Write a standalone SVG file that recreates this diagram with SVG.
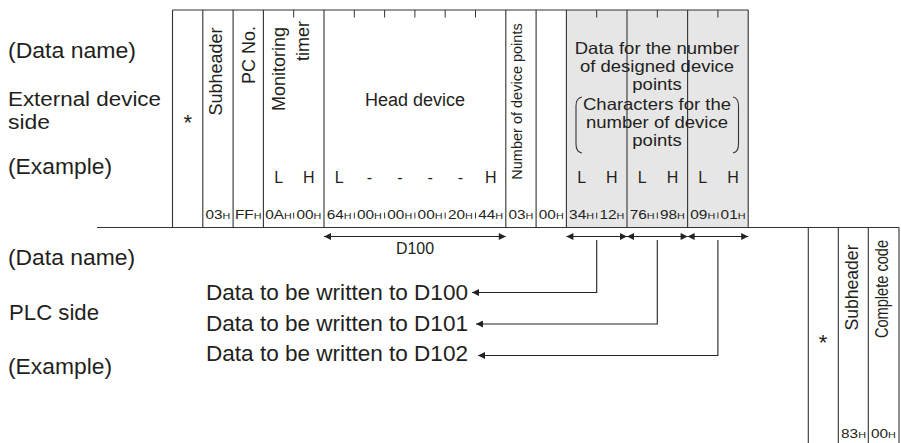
<svg xmlns="http://www.w3.org/2000/svg" width="901" height="443" viewBox="0 0 901 443">
<defs>
<marker id="ah" viewBox="0 0 10 10" refX="10" refY="5" markerWidth="8.5" markerHeight="7" markerUnits="userSpaceOnUse" orient="auto-start-reverse"><path d="M0,0 L10,5 L0,10 Z" fill="#222"/></marker>
<style>
text{font-family:"Liberation Sans",Arial,sans-serif;fill:#231f20}
.lbl{font-size:22px}
.lbs{font-size:20px}
.m{font-size:18px;text-anchor:middle}
.g{font-size:16.5px;text-anchor:middle}
.lh{font-size:16px;text-anchor:middle}
.rot{font-size:18px;text-anchor:middle}
.b{font-size:12.8px;text-anchor:middle}
.h{font-size:9px}
.ln{stroke:#333;stroke-width:1.1;fill:none}
.tk{stroke:#333;stroke-width:1;fill:none}
.cn{stroke:#222;stroke-width:1.1;fill:none}
</style>
</defs>
<rect width="901" height="443" fill="#fff"/>

<g id="labels-external">
<text class="lbl" x="8" y="58" textLength="128" lengthAdjust="spacingAndGlyphs">(Data name)</text>
<text class="lbs" x="8" y="106" textLength="153" lengthAdjust="spacingAndGlyphs">External device</text>
<text class="lbs" x="8" y="129" textLength="42" lengthAdjust="spacingAndGlyphs">side</text>
<text class="lbl" x="8" y="174" textLength="104" lengthAdjust="spacingAndGlyphs">(Example)</text>
</g>

<g id="labels-plc">
<text class="lbl" x="8" y="265" textLength="127" lengthAdjust="spacingAndGlyphs">(Data name)</text>
<text class="lbl" x="9" y="320" textLength="90" lengthAdjust="spacingAndGlyphs">PLC side</text>
<text class="lbl" x="8" y="374" textLength="104" lengthAdjust="spacingAndGlyphs">(Example)</text>
</g>

<g id="frame-external">
<rect x="566.4" y="10" width="181.8" height="217.5" fill="#e6e6e6"/>
<path class="ln" d="M172.5,10 H748.2 M97,227.5 H899"/>
<path class="ln" d="M172.5,10 V227.5 M202.8,10 V227.5 M233.1,10 V227.5 M263.4,10 V227.5 M324,10 V227.5 M505.8,10 V227.5 M536.1,10 V227.5 M566.4,10 V227.5 M627,10 V227.5 M687.6,10 V227.5 M748.2,10 V227.5"/>
<path class="tk" d="M293.7,10 V17.5 M354.3,10 V17.5 M384.6,10 V17.5 M414.9,10 V17.5 M445.2,10 V17.5 M475.5,10 V17.5 M596.7,10 V17.5 M657.3,10 V17.5 M717.9,10 V17.5"/>
<path class="tk" d="M293.7,212.5 V218.5 M354.3,212.5 V218.5 M384.6,212.5 V218.5 M414.9,212.5 V218.5 M445.2,212.5 V218.5 M475.5,212.5 V218.5 M596.7,212.5 V218.5 M657.3,212.5 V218.5 M717.9,212.5 V218.5"/>
</g>

<g id="node-star-ext">
<text class="lbl" x="187.7" y="130" text-anchor="middle">*</text>
</g>

<g id="node-subheader-ext">
<text class="rot" transform="translate(222,71.5) rotate(-90)">Subheader</text>
</g>

<g id="node-pcno">
<text class="rot" transform="translate(255,55) rotate(-90)">PC No.</text>
</g>

<g id="node-timer">
<text class="rot" transform="translate(285,69) rotate(-90)">Monitoring</text>
<text class="rot" transform="translate(308.5,41) rotate(-90)">timer</text>
<text class="lh" x="278.6" y="183">L</text>
<text class="lh" x="308.9" y="183">H</text>
</g>

<g id="node-head">
<text class="m" x="415" y="105.7">Head device</text>
<text class="lh" x="339.2" y="183">L</text>
<text class="lh" x="369.5" y="183">-</text>
<text class="lh" x="399.8" y="183">-</text>
<text class="lh" x="430.1" y="183">-</text>
<text class="lh" x="460.4" y="183">-</text>
<text class="lh" x="490.7" y="183">H</text>
</g>

<g id="node-points">
<text style="font-size:14.5px;text-anchor:middle" transform="translate(522,101.5) rotate(-90)">Number of device points</text>
</g>

<g id="node-data">
<text class="g" x="657" y="53.5" textLength="164.5" lengthAdjust="spacingAndGlyphs">Data for the number</text>
<text class="g" x="657" y="71.5" textLength="154" lengthAdjust="spacingAndGlyphs">of designed device</text>
<text class="g" x="657" y="89.5" textLength="49.4" lengthAdjust="spacingAndGlyphs">points</text>
<path class="ln" d="M582,97 Q576,98 576,106 L576,144 Q576,152 582,153"/>
<path class="ln" d="M733,97 Q738.5,98 738.5,106 L738.5,144 Q738.5,152 733,153"/>
<text class="g" x="657" y="110" textLength="148" lengthAdjust="spacingAndGlyphs">Characters for the</text>
<text class="g" x="657" y="128" textLength="142" lengthAdjust="spacingAndGlyphs">number of device</text>
<text class="g" x="657" y="146" textLength="49.4" lengthAdjust="spacingAndGlyphs">points</text>
<text class="lh" x="581.6" y="183">L</text>
<text class="lh" x="611.9" y="183">H</text>
<text class="lh" x="642.2" y="183">L</text>
<text class="lh" x="672.5" y="183">H</text>
<text class="lh" x="702.8" y="183">L</text>
<text class="lh" x="733.1" y="183">H</text>
</g>

<g id="bytes-external" transform="scale(1.2,1)">
<text class="b" x="181.63" y="219.3">03<tspan class="h">H</tspan></text>
<text class="b" x="206.88" y="219.3">FF<tspan class="h">H</tspan></text>
<text class="b" x="232.13" y="219.3">0A<tspan class="h">H</tspan></text>
<text class="b" x="257.38" y="219.3">00<tspan class="h">H</tspan></text>
<text class="b" x="282.63" y="219.3">64<tspan class="h">H</tspan></text>
<text class="b" x="307.88" y="219.3">00<tspan class="h">H</tspan></text>
<text class="b" x="333.13" y="219.3">00<tspan class="h">H</tspan></text>
<text class="b" x="358.38" y="219.3">00<tspan class="h">H</tspan></text>
<text class="b" x="383.63" y="219.3">20<tspan class="h">H</tspan></text>
<text class="b" x="408.88" y="219.3">44<tspan class="h">H</tspan></text>
<text class="b" x="434.13" y="219.3">03<tspan class="h">H</tspan></text>
<text class="b" x="459.38" y="219.3">00<tspan class="h">H</tspan></text>
<text class="b" x="484.63" y="219.3">34<tspan class="h">H</tspan></text>
<text class="b" x="509.88" y="219.3">12<tspan class="h">H</tspan></text>
<text class="b" x="535.13" y="219.3">76<tspan class="h">H</tspan></text>
<text class="b" x="560.38" y="219.3">98<tspan class="h">H</tspan></text>
<text class="b" x="585.63" y="219.3">09<tspan class="h">H</tspan></text>
<text class="b" x="610.88" y="219.3">01<tspan class="h">H</tspan></text>
</g>

<g id="frame-plc">
<path class="ln" d="M808.3,227.5 V443 M838.3,227.5 V443 M868.3,227.5 V443 M899,227.5 V443"/>
</g>

<g id="node-star-plc">
<text class="lbl" x="823" y="349.5" text-anchor="middle">*</text>
</g>

<g id="node-subheader-plc">
<text class="rot" transform="translate(858,287.5) rotate(-90)" textLength="86" lengthAdjust="spacingAndGlyphs">Subheader</text>
</g>

<g id="node-complete">
<text style="font-size:18px;text-anchor:middle" transform="translate(888,289) rotate(-90)" textLength="98" lengthAdjust="spacingAndGlyphs">Complete code</text>
</g>

<g id="bytes-plc" transform="scale(1.2,1)">
<text class="b" x="711.25" y="438">83<tspan class="h">H</tspan></text>
<text class="b" x="736.25" y="438">00<tspan class="h">H</tspan></text>
</g>

<g id="labels-written">
<text class="lbl" x="206" y="300" textLength="262" lengthAdjust="spacingAndGlyphs">Data to be written to D100</text>
<text class="lbl" x="206" y="330.5" textLength="262" lengthAdjust="spacingAndGlyphs">Data to be written to D101</text>
<text class="lbl" x="206" y="361" textLength="262" lengthAdjust="spacingAndGlyphs">Data to be written to D102</text>
<text style="font-size:16px;text-anchor:middle" x="415" y="254">D100</text>
</g>

<g id="connectors">
<path class="cn" d="M324,236.5 H505.8" marker-start="url(#ah)" marker-end="url(#ah)"/>
<path class="cn" d="M566.4,236.5 H627" marker-start="url(#ah)" marker-end="url(#ah)"/>
<path class="cn" d="M627,236.5 H687.6" marker-start="url(#ah)" marker-end="url(#ah)"/>
<path class="cn" d="M687.6,236.5 H748.2" marker-start="url(#ah)" marker-end="url(#ah)"/>
<path class="cn" d="M596.7,240 V292.5 H472" marker-end="url(#ah)"/>
<path class="cn" d="M657.3,240 V324 H476" marker-end="url(#ah)"/>
<path class="cn" d="M717.9,240 V355.5 H478" marker-end="url(#ah)"/>
</g>
</svg>
